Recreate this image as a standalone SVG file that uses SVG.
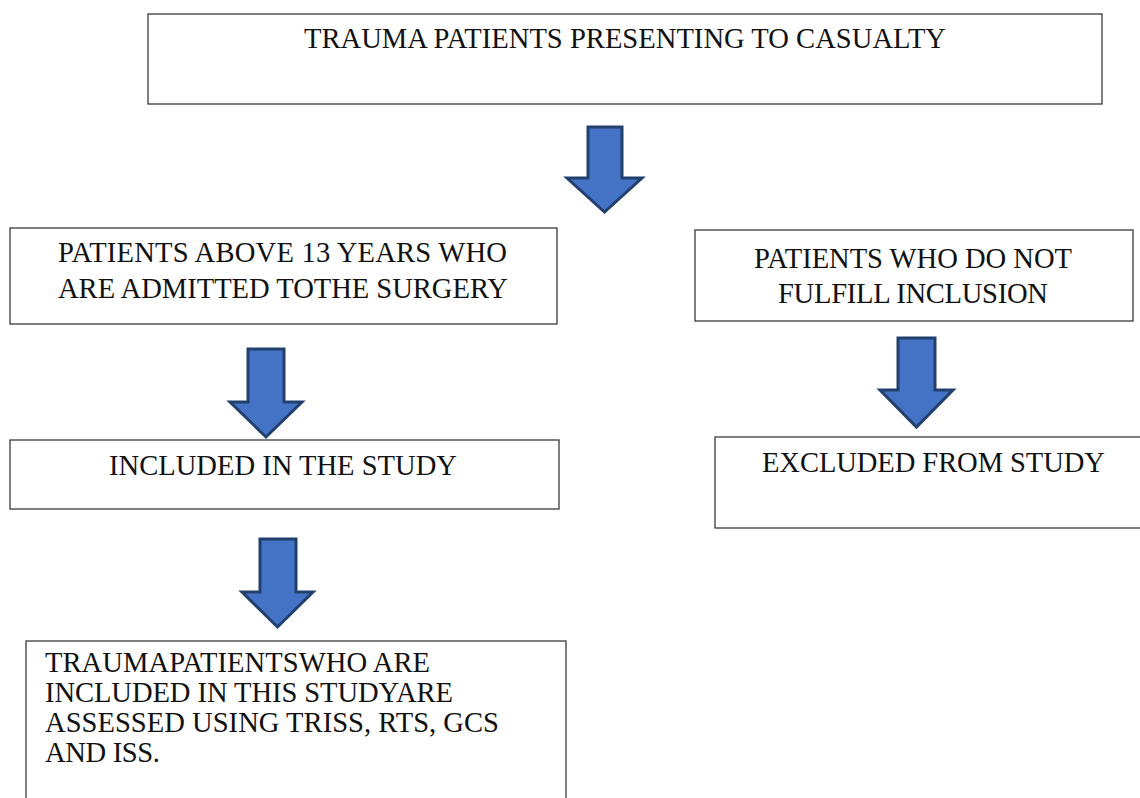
<svg xmlns="http://www.w3.org/2000/svg" width="1140" height="798" viewBox="0 0 1140 798">
<style>
.box{fill:#fff;stroke:#3a3a3a;stroke-width:1.3}
.t{font-family:"Liberation Serif","Times New Roman",serif;font-size:28.6px;fill:#111}
.c{text-anchor:middle}
.arr{fill:#4472C4;stroke:#22406e;stroke-width:3;stroke-linejoin:miter}
</style>
<rect width="1140" height="798" fill="#fff"/>
<g id="connectors">
<path class="arr" d="M588,127 L622,127 L622,178 L642,178 L604.5,212 L567,178 L588,178 Z"/>
<path class="arr" d="M898,338 L935,338 L935,390 L953,390 L916.5,427 L880,390 L898,390 Z"/>
<path class="arr" d="M248,349 L284,349 L284,402 L302,402 L266,437 L230,402 L248,402 Z"/>
<path class="arr" d="M260,539 L296,539 L296,592 L313,592 L277.5,627 L242,592 L260,592 Z"/>
</g>
<g id="n1">
<rect class="box" x="148" y="14" width="954" height="90"/>
<text class="t c" x="625" y="48" textLength="642">TRAUMA PATIENTS PRESENTING TO CASUALTY</text>
</g>
<g id="n2">
<rect class="box" x="10" y="228" width="547" height="96"/>
<text class="t c" x="282.5" y="262" textLength="449">PATIENTS ABOVE 13 YEARS WHO</text>
<text class="t c" x="283" y="298" textLength="450">ARE ADMITTED TOTHE SURGERY</text>
</g>
<g id="n3">
<rect class="box" x="695" y="230" width="438" height="91"/>
<text class="t c" x="913" y="268" textLength="318">PATIENTS WHO DO NOT</text>
<text class="t c" x="913" y="303" textLength="270">FULFILL INCLUSION</text>
</g>
<g id="n4">
<rect class="box" x="715" y="437" width="440" height="91"/>
<text class="t c" x="933.5" y="472" textLength="343">EXCLUDED FROM STUDY</text>
</g>
<g id="n5">
<rect class="box" x="10" y="440" width="549" height="69"/>
<text class="t c" x="283" y="475" textLength="348">INCLUDED IN THE STUDY</text>
</g>
<g id="n6">
<rect class="box" x="26" y="641" width="540" height="180"/>
<text class="t" x="45" y="672" textLength="385">TRAUMAPATIENTSWHO ARE</text>
<text class="t" x="45" y="702" textLength="408">INCLUDED IN THIS STUDYARE</text>
<text class="t" x="45" y="732" textLength="454">ASSESSED USING TRISS, RTS, GCS</text>
<text class="t" x="45" y="762" textLength="115">AND ISS.</text>
</g>
</svg>
